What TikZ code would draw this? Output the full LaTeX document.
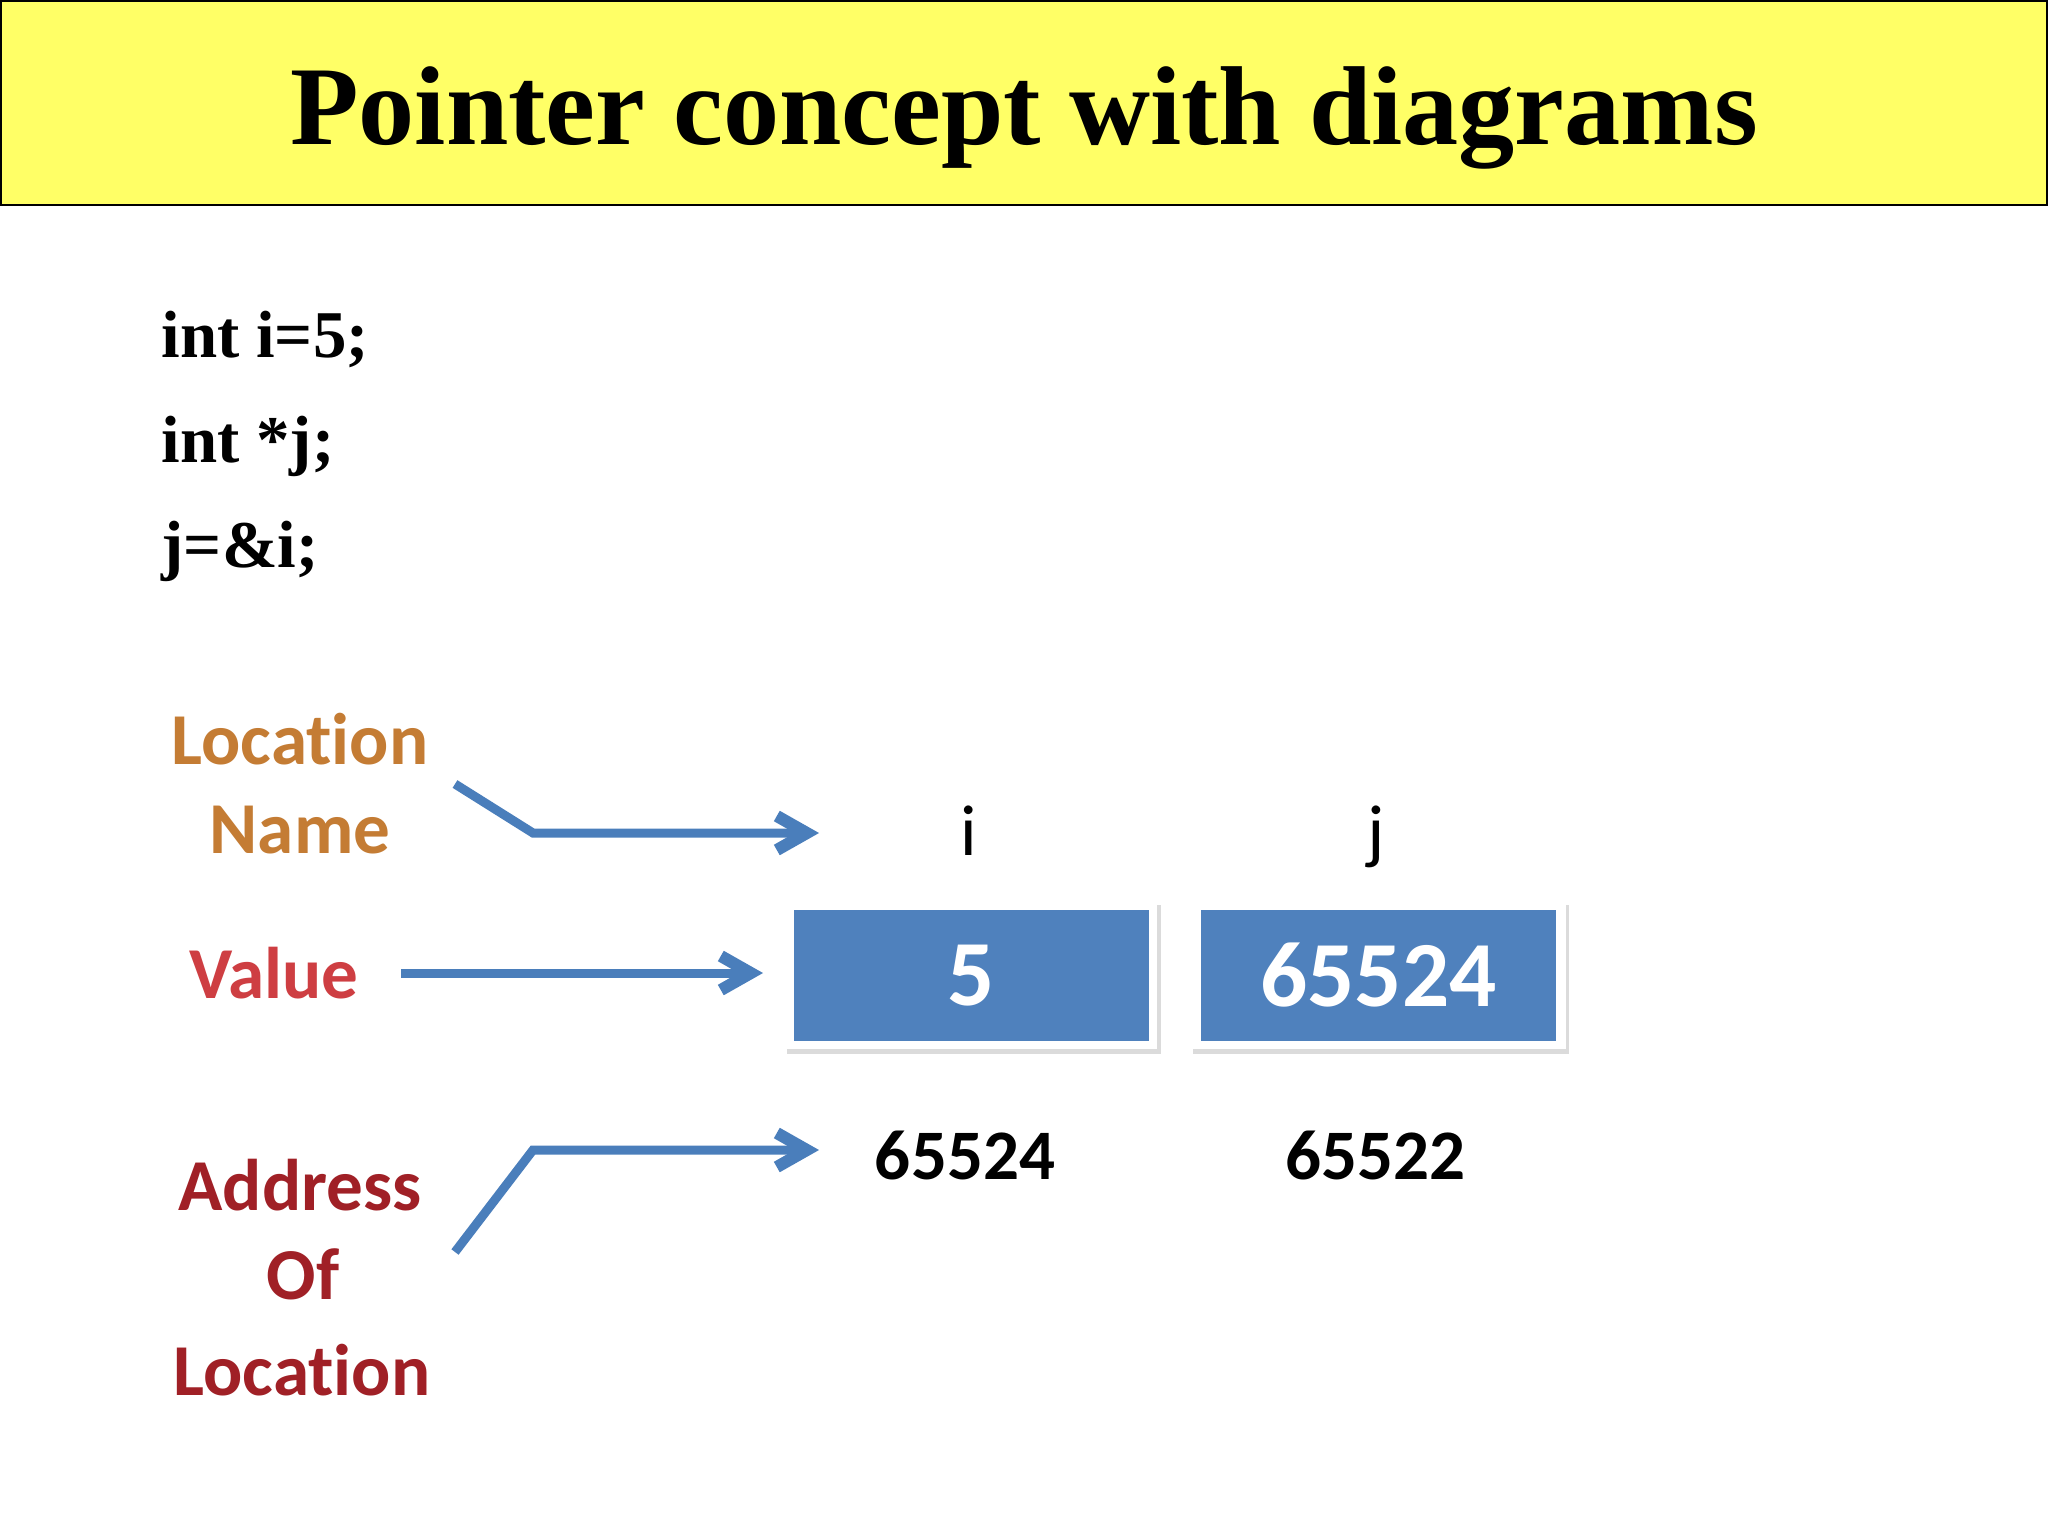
\documentclass[tikz,border=0pt]{standalone}
\usepackage{fontspec}
\setmainfont{Liberation Serif}
\newfontfamily\calfont[Ligatures=NoCommon]{Carlito}
\usetikzlibrary{arrows.meta}
\definecolor{titleyellow}{RGB}{255,255,102}
\definecolor{arrowblue}{RGB}{74,126,187}
\definecolor{boxblue}{RGB}{79,129,189}
\definecolor{locorange}{RGB}{196,124,52}
\definecolor{valred}{RGB}{206,62,66}
\definecolor{addrred}{RGB}{160,32,38}
\begin{document}
\begin{tikzpicture}[x=0.01cm,y=-0.01cm,
  titletext/.style={font=\bfseries\fontsize{31.9}{36}\selectfont, anchor=base, inner sep=0},
  codeline/.style={font=\bfseries\fontsize{19}{23}\selectfont, anchor=base west, inner sep=0},
  lbl/.style={font=\calfont\bfseries\fontsize{20.8}{24}\selectfont, anchor=base, inner sep=0},
  varname/.style={font=\calfont\fontsize{20.5}{24}\selectfont, anchor=base, inner sep=0},
  addrnum/.style={font=\calfont\bfseries\fontsize{20.2}{24}\selectfont, anchor=base, inner sep=0},
  valbox/.style={fill=boxblue, minimum width=3.55cm, minimum height=1.31cm, inner sep=0,
    text=white, font=\calfont\bfseries\fontsize{26.5}{30}\selectfont},
  ptr/.style={draw=arrowblue, line width=0.09cm, line join=miter,
    -{Straight Barb[length=0.3cm,width=0.34cm,line width=0.12cm]}}
]
\useasboundingbox (0,0) rectangle (2048,1536);
\fill[white] (0,0) rectangle (2048,1536);
% title band
\draw[fill=titleyellow, draw=black, line width=0.02cm] (1,1) rectangle (2047,205);
\node[titletext] (title) at (1024,144) {Pointer concept with diagrams};
% code
\node[codeline] (c1) at (161,357) {int i=5;};
\node[codeline] (c2) at (161,462) {int *j;};
\node[codeline] (c3) at (161,567) {j=\&i;};
% labels
\node[lbl, text=locorange] (loc1) at (300,764) {Location};
\node[lbl, text=locorange] (loc2) at (300,853) {Name};
\node[lbl, text=valred] (val) at (274,998) {Value};
\node[lbl, text=addrred] (adr1) at (300,1210) {Address};
\node[lbl, text=addrred] (adr2) at (303,1299) {Of};
\node[lbl, text=addrred] (adr3) at (302,1395) {Location};
% variable names
\node[varname] (ni) at (969,855) {i};
\node[varname] (nj) at (1376,855) {j};
% boxes with white frame and soft shadow
\fill[black!14] (787,905) rectangle (1161,1054);
\fill[white] (785,901) rectangle (1157,1049);
\fill[black!14] (1193,905) rectangle (1569,1054);
\fill[white] (1191,901) rectangle (1566,1049);
\node[valbox] (box1) at (971.5,975.5) {5};
\node[valbox] (box2) at (1378.5,975.5) {65524};
% addresses
\node[addrnum] (a1) at (965,1179) {65524};
\node[addrnum] (a2) at (1375,1179) {65522};
% arrows
\coordinate (s1) at (455,784);
\coordinate (b1) at (533,833);
\coordinate (e1) at (819,833);
\coordinate (s2) at (401,973);
\coordinate (e2) at (763,973);
\coordinate (s3) at (455,1252);
\coordinate (b3) at (533,1150);
\coordinate (e3) at (819,1150);
\draw[ptr] (s1) -- (b1) -- (e1);
\draw[ptr] (s2) -- (e2);
\draw[ptr] (s3) -- (b3) -- (e3);
\end{tikzpicture}
\end{document}
